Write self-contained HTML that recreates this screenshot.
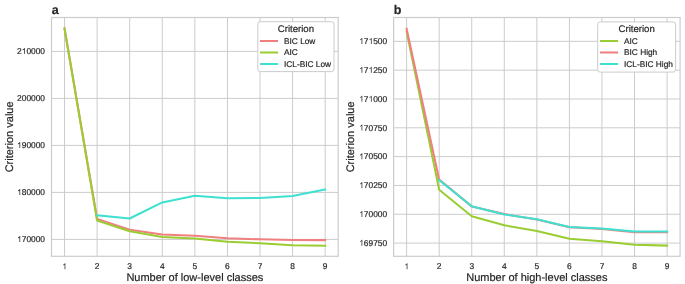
<!DOCTYPE html>
<html><head><meta charset="utf-8"><title>Criterion value plots</title>
<style>
html,body{margin:0;padding:0;background:#fff;width:685px;height:284px;overflow:hidden;}
svg{display:block;}
text{font-family:"Liberation Sans", sans-serif;text-rendering:geometricPrecision;stroke:#262626;stroke-width:0.2px;}
path{stroke:#262626;stroke-width:0.2px;}
svg{will-change:transform;}
</style></head>
<body>
<svg width="685" height="284" viewBox="0 0 685 284" font-family='"Liberation Sans", sans-serif' fill="#262626">
<rect width="685" height="284" fill="#ffffff"/>
<line x1="64.53" y1="17.5" x2="64.53" y2="256.3" stroke="#cccccc" stroke-width="1"/>
<line x1="97.11" y1="17.5" x2="97.11" y2="256.3" stroke="#cccccc" stroke-width="1"/>
<line x1="129.69" y1="17.5" x2="129.69" y2="256.3" stroke="#cccccc" stroke-width="1"/>
<line x1="162.27" y1="17.5" x2="162.27" y2="256.3" stroke="#cccccc" stroke-width="1"/>
<line x1="194.85" y1="17.5" x2="194.85" y2="256.3" stroke="#cccccc" stroke-width="1"/>
<line x1="227.43" y1="17.5" x2="227.43" y2="256.3" stroke="#cccccc" stroke-width="1"/>
<line x1="260.01" y1="17.5" x2="260.01" y2="256.3" stroke="#cccccc" stroke-width="1"/>
<line x1="292.59" y1="17.5" x2="292.59" y2="256.3" stroke="#cccccc" stroke-width="1"/>
<line x1="325.17" y1="17.5" x2="325.17" y2="256.3" stroke="#cccccc" stroke-width="1"/>
<line x1="51.5" y1="51.40" x2="338.2" y2="51.40" stroke="#cccccc" stroke-width="1"/>
<line x1="51.5" y1="98.40" x2="338.2" y2="98.40" stroke="#cccccc" stroke-width="1"/>
<line x1="51.5" y1="145.40" x2="338.2" y2="145.40" stroke="#cccccc" stroke-width="1"/>
<line x1="51.5" y1="192.40" x2="338.2" y2="192.40" stroke="#cccccc" stroke-width="1"/>
<line x1="51.5" y1="239.40" x2="338.2" y2="239.40" stroke="#cccccc" stroke-width="1"/>
<polyline points="64.53,28.40 97.11,219.00 129.69,229.80 162.27,234.40 194.85,235.70 227.43,238.30 260.01,239.30 292.59,240.00 325.17,240.10" fill="none" stroke="#f08080" stroke-width="2.05" stroke-linejoin="round" stroke-linecap="square"/>
<polyline points="64.53,28.80 97.11,220.60 129.69,231.20 162.27,237.00 194.85,238.60 227.43,241.80 260.01,243.20 292.59,245.20 325.17,245.80" fill="none" stroke="#9acd32" stroke-width="2.05" stroke-linejoin="round" stroke-linecap="square"/>
<polyline points="97.11,215.30 129.69,218.50 162.27,202.40 194.85,195.80 227.43,198.20 260.01,198.00 292.59,196.00 325.17,189.50" fill="none" stroke="#40e0d0" stroke-width="2.05" stroke-linejoin="round" stroke-linecap="square"/>
<rect x="51.5" y="17.5" width="286.70" height="238.80" fill="none" stroke="#cccccc" stroke-width="1.2"/>
<text x="62.20" y="269.20" font-size="8.4"> </text><path transform="translate(62.20,269.20) scale(0.004102,-0.004102)" d="M763 0L583 0L583 1147Q518 1085 412 1023Q306 961 222 930L222 1104Q373 1175 486 1276Q599 1377 646 1472L763 1472Z"/>
<text x="94.78" y="269.20" font-size="8.4">2</text>
<text x="127.36" y="269.20" font-size="8.4">3</text>
<text x="159.93" y="269.20" font-size="8.4">4</text>
<text x="192.51" y="269.20" font-size="8.4">5</text>
<text x="225.09" y="269.20" font-size="8.4">6</text>
<text x="257.67" y="269.20" font-size="8.4">7</text>
<text x="290.25" y="269.20" font-size="8.4">8</text>
<text x="322.83" y="269.20" font-size="8.4">9</text>
<text x="17.07" y="54.10" font-size="8.4">2 0000</text><path transform="translate(21.74,54.10) scale(0.004102,-0.004102)" d="M763 0L583 0L583 1147Q518 1085 412 1023Q306 961 222 930L222 1104Q373 1175 486 1276Q599 1377 646 1472L763 1472Z"/>
<text x="17.07" y="101.10" font-size="8.4">200000</text>
<text x="17.07" y="148.10" font-size="8.4"> 90000</text><path transform="translate(17.07,148.10) scale(0.004102,-0.004102)" d="M763 0L583 0L583 1147Q518 1085 412 1023Q306 961 222 930L222 1104Q373 1175 486 1276Q599 1377 646 1472L763 1472Z"/>
<text x="17.07" y="195.10" font-size="8.4"> 80000</text><path transform="translate(17.07,195.10) scale(0.004102,-0.004102)" d="M763 0L583 0L583 1147Q518 1085 412 1023Q306 961 222 930L222 1104Q373 1175 486 1276Q599 1377 646 1472L763 1472Z"/>
<text x="17.07" y="242.10" font-size="8.4"> 70000</text><path transform="translate(17.07,242.10) scale(0.004102,-0.004102)" d="M763 0L583 0L583 1147Q518 1085 412 1023Q306 961 222 930L222 1104Q373 1175 486 1276Q599 1377 646 1472L763 1472Z"/>
<text x="194.85" y="280.9" text-anchor="middle" font-size="11">Number of low-level classes</text>
<text transform="translate(12.9,136.90) rotate(-90)" text-anchor="middle" font-size="11">Criterion value</text>
<text x="51.7" y="13.6" font-size="12.5" font-weight="bold">a</text>
<rect x="257.8" y="21.7" width="76.20" height="49.90" rx="2.5" ry="2.5" fill="#ffffff" stroke="#cccccc" stroke-width="1"/>
<text x="295.90" y="32.0" text-anchor="middle" font-size="9.6">Criterion</text>
<line x1="260.0" y1="41.00" x2="278.1" y2="41.00" stroke="#f08080" stroke-width="2.05"/>
<text x="284.0" y="43.90" font-size="8.3">BIC Low</text>
<line x1="260.0" y1="52.50" x2="278.1" y2="52.50" stroke="#9acd32" stroke-width="2.05"/>
<text x="284.0" y="55.40" font-size="8.3">AIC</text>
<line x1="260.0" y1="64.00" x2="278.1" y2="64.00" stroke="#40e0d0" stroke-width="2.05"/>
<text x="284.0" y="66.90" font-size="8.3">ICL-BIC Low</text>
<line x1="406.62" y1="17.5" x2="406.62" y2="256.3" stroke="#cccccc" stroke-width="1"/>
<line x1="439.18" y1="17.5" x2="439.18" y2="256.3" stroke="#cccccc" stroke-width="1"/>
<line x1="471.74" y1="17.5" x2="471.74" y2="256.3" stroke="#cccccc" stroke-width="1"/>
<line x1="504.29" y1="17.5" x2="504.29" y2="256.3" stroke="#cccccc" stroke-width="1"/>
<line x1="536.85" y1="17.5" x2="536.85" y2="256.3" stroke="#cccccc" stroke-width="1"/>
<line x1="569.41" y1="17.5" x2="569.41" y2="256.3" stroke="#cccccc" stroke-width="1"/>
<line x1="601.96" y1="17.5" x2="601.96" y2="256.3" stroke="#cccccc" stroke-width="1"/>
<line x1="634.52" y1="17.5" x2="634.52" y2="256.3" stroke="#cccccc" stroke-width="1"/>
<line x1="667.08" y1="17.5" x2="667.08" y2="256.3" stroke="#cccccc" stroke-width="1"/>
<line x1="393.6" y1="41.35" x2="680.1" y2="41.35" stroke="#cccccc" stroke-width="1"/>
<line x1="393.6" y1="70.17" x2="680.1" y2="70.17" stroke="#cccccc" stroke-width="1"/>
<line x1="393.6" y1="98.99" x2="680.1" y2="98.99" stroke="#cccccc" stroke-width="1"/>
<line x1="393.6" y1="127.81" x2="680.1" y2="127.81" stroke="#cccccc" stroke-width="1"/>
<line x1="393.6" y1="156.63" x2="680.1" y2="156.63" stroke="#cccccc" stroke-width="1"/>
<line x1="393.6" y1="185.45" x2="680.1" y2="185.45" stroke="#cccccc" stroke-width="1"/>
<line x1="393.6" y1="214.27" x2="680.1" y2="214.27" stroke="#cccccc" stroke-width="1"/>
<line x1="393.6" y1="243.09" x2="680.1" y2="243.09" stroke="#cccccc" stroke-width="1"/>
<polyline points="406.62,31.50 439.18,189.80 471.74,216.20 504.29,225.30 536.85,231.00 569.41,238.70 601.96,241.30 634.52,244.80 667.08,245.60" fill="none" stroke="#9acd32" stroke-width="2.05" stroke-linejoin="round" stroke-linecap="square"/>
<polyline points="406.62,28.70 439.18,179.60 471.74,206.40 504.29,214.10 536.85,219.40 569.41,227.30 601.96,229.10 634.52,232.20 667.08,232.20" fill="none" stroke="#f08080" stroke-width="2.05" stroke-linejoin="round" stroke-linecap="square"/>
<polyline points="439.18,180.00 471.74,206.30 504.29,214.40 536.85,219.30 569.41,226.90 601.96,228.50 634.52,231.50 667.08,231.50" fill="none" stroke="#40e0d0" stroke-width="2.05" stroke-linejoin="round" stroke-linecap="square"/>
<rect x="393.6" y="17.5" width="286.50" height="238.80" fill="none" stroke="#cccccc" stroke-width="1.2"/>
<text x="404.29" y="269.20" font-size="8.4"> </text><path transform="translate(404.29,269.20) scale(0.004102,-0.004102)" d="M763 0L583 0L583 1147Q518 1085 412 1023Q306 961 222 930L222 1104Q373 1175 486 1276Q599 1377 646 1472L763 1472Z"/>
<text x="436.84" y="269.20" font-size="8.4">2</text>
<text x="469.40" y="269.20" font-size="8.4">3</text>
<text x="501.96" y="269.20" font-size="8.4">4</text>
<text x="534.51" y="269.20" font-size="8.4">5</text>
<text x="567.07" y="269.20" font-size="8.4">6</text>
<text x="599.63" y="269.20" font-size="8.4">7</text>
<text x="632.18" y="269.20" font-size="8.4">8</text>
<text x="664.74" y="269.20" font-size="8.4">9</text>
<text x="359.17" y="44.05" font-size="8.4"> 7 500</text><path transform="translate(359.17,44.05) scale(0.004102,-0.004102)" d="M763 0L583 0L583 1147Q518 1085 412 1023Q306 961 222 930L222 1104Q373 1175 486 1276Q599 1377 646 1472L763 1472Z"/><path transform="translate(368.51,44.05) scale(0.004102,-0.004102)" d="M763 0L583 0L583 1147Q518 1085 412 1023Q306 961 222 930L222 1104Q373 1175 486 1276Q599 1377 646 1472L763 1472Z"/>
<text x="359.17" y="72.87" font-size="8.4"> 7 250</text><path transform="translate(359.17,72.87) scale(0.004102,-0.004102)" d="M763 0L583 0L583 1147Q518 1085 412 1023Q306 961 222 930L222 1104Q373 1175 486 1276Q599 1377 646 1472L763 1472Z"/><path transform="translate(368.51,72.87) scale(0.004102,-0.004102)" d="M763 0L583 0L583 1147Q518 1085 412 1023Q306 961 222 930L222 1104Q373 1175 486 1276Q599 1377 646 1472L763 1472Z"/>
<text x="359.17" y="101.69" font-size="8.4"> 7 000</text><path transform="translate(359.17,101.69) scale(0.004102,-0.004102)" d="M763 0L583 0L583 1147Q518 1085 412 1023Q306 961 222 930L222 1104Q373 1175 486 1276Q599 1377 646 1472L763 1472Z"/><path transform="translate(368.51,101.69) scale(0.004102,-0.004102)" d="M763 0L583 0L583 1147Q518 1085 412 1023Q306 961 222 930L222 1104Q373 1175 486 1276Q599 1377 646 1472L763 1472Z"/>
<text x="359.17" y="130.51" font-size="8.4"> 70750</text><path transform="translate(359.17,130.51) scale(0.004102,-0.004102)" d="M763 0L583 0L583 1147Q518 1085 412 1023Q306 961 222 930L222 1104Q373 1175 486 1276Q599 1377 646 1472L763 1472Z"/>
<text x="359.17" y="159.33" font-size="8.4"> 70500</text><path transform="translate(359.17,159.33) scale(0.004102,-0.004102)" d="M763 0L583 0L583 1147Q518 1085 412 1023Q306 961 222 930L222 1104Q373 1175 486 1276Q599 1377 646 1472L763 1472Z"/>
<text x="359.17" y="188.15" font-size="8.4"> 70250</text><path transform="translate(359.17,188.15) scale(0.004102,-0.004102)" d="M763 0L583 0L583 1147Q518 1085 412 1023Q306 961 222 930L222 1104Q373 1175 486 1276Q599 1377 646 1472L763 1472Z"/>
<text x="359.17" y="216.97" font-size="8.4"> 70000</text><path transform="translate(359.17,216.97) scale(0.004102,-0.004102)" d="M763 0L583 0L583 1147Q518 1085 412 1023Q306 961 222 930L222 1104Q373 1175 486 1276Q599 1377 646 1472L763 1472Z"/>
<text x="359.17" y="245.79" font-size="8.4"> 69750</text><path transform="translate(359.17,245.79) scale(0.004102,-0.004102)" d="M763 0L583 0L583 1147Q518 1085 412 1023Q306 961 222 930L222 1104Q373 1175 486 1276Q599 1377 646 1472L763 1472Z"/>
<text x="536.85" y="280.9" text-anchor="middle" font-size="11">Number of high-level classes</text>
<text transform="translate(354.1,136.90) rotate(-90)" text-anchor="middle" font-size="11">Criterion value</text>
<text x="393.8" y="13.6" font-size="12.5" font-weight="bold">b</text>
<rect x="597.7" y="21.9" width="77.90" height="50.20" rx="2.5" ry="2.5" fill="#ffffff" stroke="#cccccc" stroke-width="1"/>
<text x="636.65" y="32.0" text-anchor="middle" font-size="9.6">Criterion</text>
<line x1="600.0" y1="41.00" x2="618.1" y2="41.00" stroke="#9acd32" stroke-width="2.05"/>
<text x="624.0" y="43.90" font-size="8.3">AIC</text>
<line x1="600.0" y1="52.50" x2="618.1" y2="52.50" stroke="#f08080" stroke-width="2.05"/>
<text x="624.0" y="55.40" font-size="8.3">BIC High</text>
<line x1="600.0" y1="64.00" x2="618.1" y2="64.00" stroke="#40e0d0" stroke-width="2.05"/>
<text x="624.0" y="66.90" font-size="8.3">ICL-BIC High</text>
</svg>
</body></html>
